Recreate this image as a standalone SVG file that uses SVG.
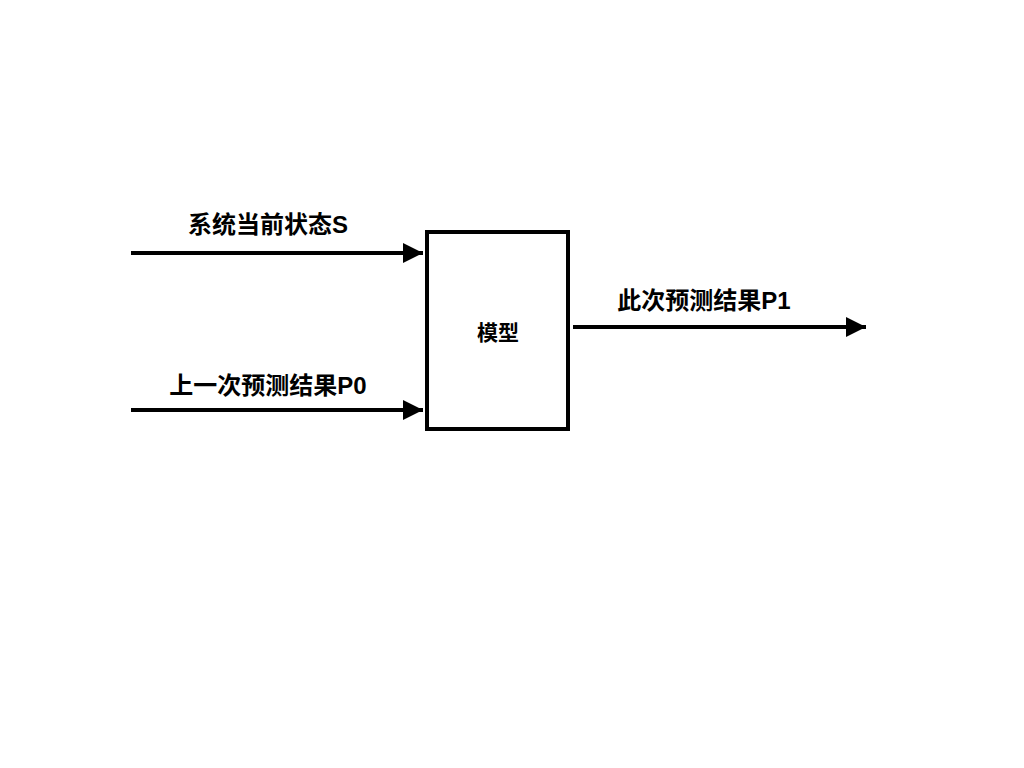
<svg xmlns="http://www.w3.org/2000/svg" width="1024" height="768" viewBox="0 0 1024 768">
<style>
.lbl{font-family:"Liberation Sans","Noto Sans CJK SC",sans-serif;font-weight:bold;font-size:24px;fill:#000;text-anchor:middle;dominant-baseline:central}
.node{fill:#fff;stroke:#000;stroke-width:4}
.edge{stroke:#000;stroke-width:4;fill:none}
</style>
<defs>
<marker id="arr" markerUnits="userSpaceOnUse" markerWidth="22" markerHeight="22" refX="20" refY="10" orient="auto">
<path d="M0,0 L20,10 L0,20 Z" fill="#000"/>
</marker>
</defs>
<rect width="1024" height="768" fill="#fff"/>
<g id="model">
<rect class="node" x="427" y="232" width="141" height="197"/>
<text class="lbl" x="498" y="332" style="font-size:21px">模型</text>
</g>
<g id="connectors">
<line class="edge" x1="131" y1="253" x2="423" y2="253" marker-end="url(#arr)"/>
<line class="edge" x1="131" y1="410" x2="423" y2="410" marker-end="url(#arr)"/>
<line class="edge" x1="573" y1="327" x2="866" y2="327" marker-end="url(#arr)"/>
<text class="lbl" x="268" y="224">系统当前状态S</text>
<text class="lbl" x="268" y="385">上一次预测结果P0</text>
<text class="lbl" x="704" y="300">此次预测结果P1</text>
</g>
</svg>
